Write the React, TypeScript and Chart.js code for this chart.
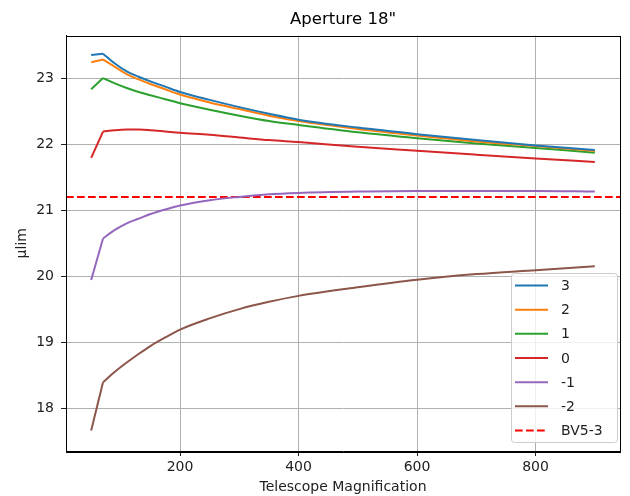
import React, { useEffect, useRef } from "react";
import { Chart, registerables } from "chart.js";

Chart.register(...registerables);

// ---- data ----
const magnification = [50, 70, 90, 110, 130, 150, 175, 200, 250, 300, 350, 400, 500, 600, 700, 800, 900];
const mu3 = [23.36, 23.38, 23.23, 23.11, 23.03, 22.96, 22.88, 22.8, 22.68, 22.57, 22.47, 22.38, 22.26, 22.16, 22.07, 21.99, 21.92];
const mu2 = [23.25, 23.29, 23.18, 23.07, 22.99, 22.92, 22.84, 22.76, 22.64, 22.54, 22.44, 22.36, 22.24, 22.14, 22.05, 21.98, 21.905];
const mu1 = [22.84, 23.01, 22.93, 22.86, 22.8, 22.75, 22.69, 22.63, 22.53, 22.44, 22.36, 22.3, 22.19, 22.1, 22.02, 21.95, 21.88];
const mu0 = [21.8, 22.2, 22.22, 22.23, 22.23, 22.22, 22.2, 22.18, 22.15, 22.11, 22.07, 22.04, 21.97, 21.91, 21.85, 21.79, 21.74];
const muM1 = [19.95, 20.58, 20.71, 20.81, 20.88, 20.95, 21.02, 21.08, 21.16, 21.21, 21.25, 21.27, 21.29, 21.3, 21.3, 21.3, 21.29];
const muM2 = [17.67, 18.4, 18.56, 18.7, 18.83, 18.95, 19.08, 19.2, 19.37, 19.51, 19.62, 19.71, 19.84, 19.955, 20.04, 20.1, 20.16];
const seriesLabels = ["3", "2", "1", "0", "-1", "-2"];
const bvLabel = "BV5-3";
const bvLevel = 21.21;
const xTickValues = [200, 400, 600, 800];
const yTickValues = [18, 19, 20, 21, 22, 23];

const X_MIN = 7.5;
const X_MAX = 942.5;
const Y_MIN = 17.36;
const Y_MAX = 23.655;
const COLORS = ["#1f77b4", "#ff7f0e", "#2ca02c", "#d62728", "#9467bd", "#8c564b"];
const BV_COLOR = "#ff0000";
const BV_DASH = [7.7, 3.3];
const FONT = "'DejaVu Sans', sans-serif";

export default function App() {
  const ref = useRef<HTMLCanvasElement>(null);

  useEffect(() => {
    const canvas = ref.current;
    if (!canvas) return;
    const seriesValues = [mu3, mu2, mu1, mu0, muM1, muM2];
    const datasets: any[] = [];
    seriesValues.forEach((vals, i) => {
      const pts = magnification.map((x, j) => ({ x, y: vals[j] }));
      // straight first segment (sharp corner at the second point)
      datasets.push({
        label: seriesLabels[i],
        data: pts.slice(0, 2),
        borderColor: COLORS[i],
        backgroundColor: COLORS[i],
        borderWidth: 2,
        pointRadius: 0,
        tension: 0,
        fill: false,
      });
      // smooth remainder
      datasets.push({
        label: seriesLabels[i],
        data: pts.slice(1),
        borderColor: COLORS[i],
        backgroundColor: COLORS[i],
        borderWidth: 2,
        pointRadius: 0,
        cubicInterpolationMode: "monotone",
        fill: false,
      });
    });
    datasets.push({
      label: bvLabel,
      data: [
        { x: X_MIN, y: bvLevel },
        { x: X_MAX, y: bvLevel },
      ],
      borderColor: BV_COLOR,
      backgroundColor: BV_COLOR,
      borderWidth: 2,
      borderDash: BV_DASH,
      pointRadius: 0,
      tension: 0,
      fill: false,
    });

    const legendEntries = [
      ...seriesLabels.map((l, i) => ({ label: l, color: COLORS[i], dash: [] as number[] })),
      { label: bvLabel, color: BV_COLOR, dash: BV_DASH },
    ];

    const framePlugin = {
      id: "mplFrameLegend",
      afterDatasetsDraw(chart: any) {
        const ctx = chart.ctx as CanvasRenderingContext2D;
        const a = chart.chartArea;
        const left = 511;
        const right = a.right - 3;
        const top = 273;
        const bottom = a.bottom - 9;
        ctx.save();
        ctx.beginPath();
        (ctx as any).roundRect(left + 0.5, top + 0.5, right - left, bottom - top, 3);
        ctx.fillStyle = "rgba(255,255,255,0.8)";
        ctx.fill();
        ctx.strokeStyle = "#cccccc";
        ctx.lineWidth = 1;
        ctx.stroke();
        const step = (bottom - top - 24) / (legendEntries.length - 1);
        ctx.font = `14px ${FONT}`;
        ctx.textBaseline = "middle";
        ctx.textAlign = "left";
        legendEntries.forEach((e, i) => {
          const y = top + 12.5 + i * step;
          ctx.beginPath();
          ctx.strokeStyle = e.color;
          ctx.lineWidth = 2;
          ctx.setLineDash(e.dash);
          ctx.moveTo(left + 4, y);
          ctx.lineTo(left + 37, y);
          ctx.stroke();
          ctx.setLineDash([]);
          ctx.fillStyle = "#222";
          ctx.fillText(e.label, left + 50, y + 1);
        });
        ctx.restore();
      },
      afterDraw(chart: any) {
        const ctx = chart.ctx as CanvasRenderingContext2D;
        const a = chart.chartArea;
        ctx.save();
        ctx.strokeStyle = "#000";
        ctx.lineWidth = 1;
        ctx.strokeRect(Math.round(a.left) + 0.5, Math.round(a.top) + 0.5, Math.round(a.right - a.left), Math.round(a.bottom - a.top));
        ctx.restore();
      },
    };

    const chart = new Chart(canvas, {
      type: "line",
      data: { datasets },
      options: {
        animation: false,
        responsive: false,
        devicePixelRatio: 1,
        events: [],
        layout: { padding: { top: 0, right: 10, bottom: 0, left: 0 } },
        plugins: {
          legend: { display: false },
          tooltip: { enabled: false },
          title: {
            display: true,
            text: 'Aperture 18"',
            color: "#000",
            font: { family: FONT, size: 16.5, weight: "normal" },
            padding: { top: 9.5, bottom: 6.2 },
            fullSize: false,
          } as any,
        },
        scales: {
          x: {
            type: "linear",
            min: X_MIN,
            max: X_MAX,
            afterBuildTicks: (s: any) => {
              s.ticks = xTickValues.map((v) => ({ value: v }));
            },
            afterFit: (s: any) => {
              s.height = 45;
            },
            grid: { color: "#b0b0b0", lineWidth: 1, tickLength: 5, tickColor: "#222", drawTicks: true },
            border: { display: true, color: "#000", width: 1 },
            ticks: {
              color: "#222",
              font: { family: FONT, size: 14 },
              padding: 3,
              maxRotation: 0,
              autoSkip: false,
              callback: (v: any) => String(v),
            },
            title: {
              display: true,
              text: "Telescope Magnification",
              color: "#222",
              font: { family: FONT, size: 14 },
              padding: { top: 0, bottom: 0 },
            },
          },
          y: {
            type: "linear",
            min: Y_MIN,
            max: Y_MAX,
            afterBuildTicks: (s: any) => {
              s.ticks = yTickValues.map((v) => ({ value: v }));
            },
            afterFit: (s: any) => {
              s.width = 66;
            },
            grid: { color: "#b0b0b0", lineWidth: 1, tickLength: 5, tickColor: "#222", drawTicks: true },
            border: { display: true, color: "#000", width: 1 },
            ticks: {
              color: "#222",
              font: { family: FONT, size: 14 },
              padding: 7,
              autoSkip: false,
              callback: (v: any) => String(v),
            },
            title: {
              display: true,
              text: "µlim",
              color: "#222",
              font: { family: FONT, size: 14 },
              padding: { top: 14, bottom: 0 },
            },
          },
        },
      },
      plugins: [framePlugin],
    });

    return () => chart.destroy();
  }, []);

  return (
    <div style={{ position: "absolute", left: 0, top: 0, width: 630, height: 496, background: "#fff" }}>
      <canvas ref={ref} width={630} height={496} style={{ display: "block", width: 630, height: 496 }} />
    </div>
  );
}
